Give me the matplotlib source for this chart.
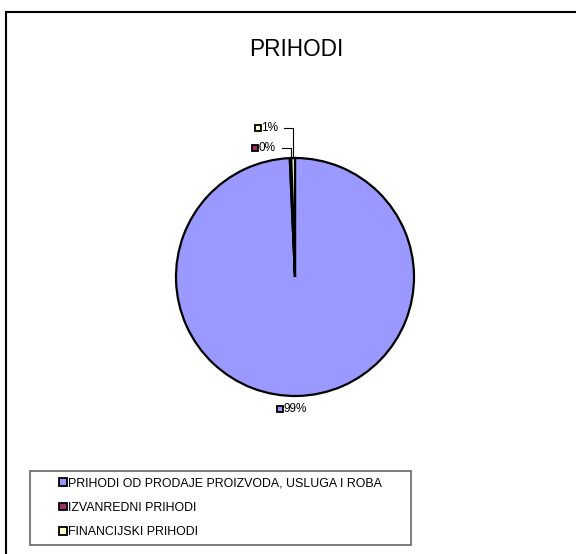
import matplotlib.pyplot as plt
import matplotlib.patches as mpatches
from matplotlib.legend_handler import HandlerPatch
import numpy as np

plt.rcParams['font.family'] = ['Liberation Sans', 'DejaVu Sans']

categories = ['PRIHODI OD PRODAJE PROIZVODA, USLUGA I ROBA',
              'IZVANREDNI PRIHODI',
              'FINANCIJSKI PRIHODI']
values = [99.3, 0.2, 0.5]
pct_labels = ['99%', '0%', '1%']
colors = ['#9999FF', '#993366', '#FFFFCC']

W, H = 576, 554
fig = plt.figure(figsize=(W / 100, H / 100), dpi=100)

# outer chart frame (right/bottom edges fall outside the picture)
frame = mpatches.Rectangle((6 / W, -0.1), 1.2, 1.1 - 12 / H,
                           transform=fig.transFigure, fill=False,
                           edgecolor='black', linewidth=1.5)
fig.patches.append(frame)

fig.text(296 / W, 1 - 50 / H, 'PRIHODI', ha='center', va='center', fontsize=16.3)

# pie axes: centre (295, 277) px, radius 119 px
cx, cy, r = 295, 277, 119
ax = fig.add_axes([(cx - r) / W, (H - cy - r) / H, 2 * r / W, 2 * r / H])
wedges, _ = ax.pie(values, colors=colors, startangle=90, counterclock=False,
                   wedgeprops=dict(edgecolor='black', linewidth=1.6))
ax.set_xlim(-1, 1)
ax.set_ylim(-1, 1)
ax.axis('off')


def key_label(x, y, text, color):
    ax.plot([x - 0.05], [y], marker='s', markersize=5, markerfacecolor=color,
            markeredgecolor='black', markeredgewidth=1.3, clip_on=False)
    ax.text(x - 0.02, y, text, ha='left', va='center', fontsize=8.5)


# big slice label below the pie
key_label(-0.075, -1.11, pct_labels[0], colors[0])

# small slices: leader lines from the rim up and left to the label
cum = np.cumsum([0] + values)
total = sum(values)
label_y = {1: 1.08, 2: 1.255}
text_right = {1: -0.13, 2: -0.11}
for i in (1, 2):
    mid = 90 - 360 * (cum[i] + values[i] / 2) / total
    ex, ey = np.cos(np.radians(mid)), np.sin(np.radians(mid))
    ly = label_y[i]
    ax.plot([ex, ex, text_right[i] + 0.02], [ey, ly, ly], color='black',
            linewidth=0.8, clip_on=False)
    key_label(text_right[i] - 0.155, ly, pct_labels[i], colors[i])


def small_square(legend, orig_handle, xdescent, ydescent, width, height, fontsize):
    s = 0.62 * fontsize
    return mpatches.Rectangle((width - s - xdescent, (height - s) / 2 - ydescent), s, s)


handles = [mpatches.Patch(facecolor=c, edgecolor='black', linewidth=1.3, label=l)
           for c, l in zip(colors, categories)]
leg = fig.legend(handles=handles, loc='lower left',
                 bbox_to_anchor=(30 / W, 9 / H, 381 / W, 74 / H), mode='expand',
                 borderaxespad=0, fontsize=8.9, handlelength=2.41, handleheight=0.7,
                 handletextpad=0.15, labelspacing=1.0, borderpad=0.55,
                 fancybox=False, framealpha=1, edgecolor='#666666',
                 handler_map={mpatches.Patch: HandlerPatch(patch_func=small_square)})
leg.get_frame().set_linewidth(1.2)

fig.savefig('out.png', dpi=100)
